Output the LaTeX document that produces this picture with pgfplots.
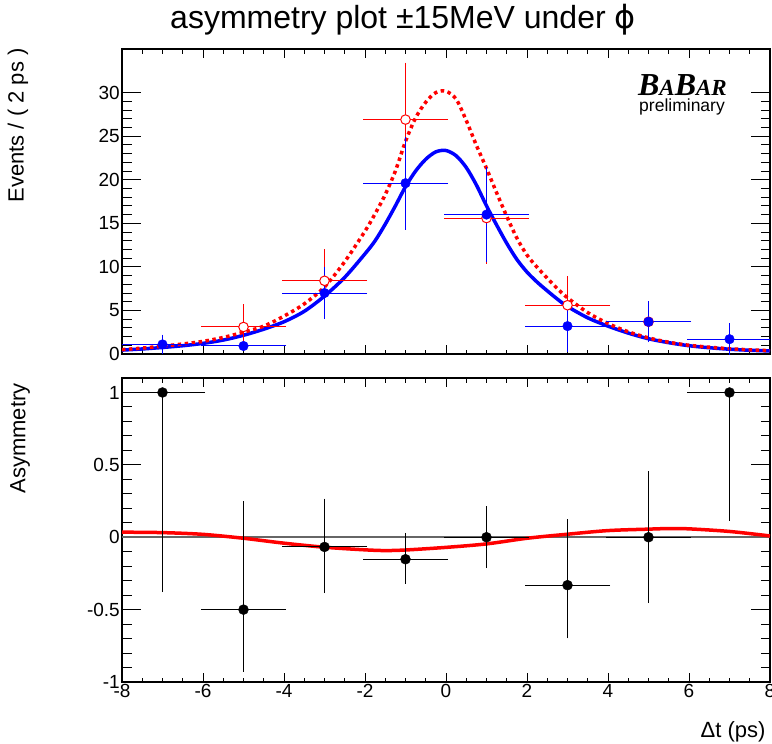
\documentclass[border=0pt]{standalone}
\usepackage{fontspec}
\setmainfont{Liberation Sans}
\newfontfamily\babarfont{Liberation Serif}
\newfontfamily\dejavu{DejaVu Sans}
\usepackage{pgfplots}
\pgfplotsset{compat=1.18}
\definecolor{rootblue}{RGB}{0,0,255}
\definecolor{rootred}{RGB}{255,0,0}
\pgfplotsset{
 rootaxis/.style={
  scale only axis, width=648bp, xmin=-8, xmax=8,
  axis line style={line width=1.2bp},
  tick style={line width=1bp, black},
  tick label style={font=\fontsize{19bp}{21bp}\selectfont},
  /pgf/number format/assume math mode=true,
  yticklabel style={inner sep=2bp},
  xticklabel style={inner sep=2bp},
 },
 yonly/.style={xtick=\empty, major tick length=19bp, minor tick length=9.5bp},
 xonly/.style={ytick=\empty, xtick={-8,-6,...,8}, minor x tick num=3,
  major tick length=9bp, minor tick length=4.5bp},
}
\begin{document}
\begin{tikzpicture}
\path[use as bounding box] (0bp,0bp) rectangle (772bp,-744bp);

% top panel: x ticks
\begin{axis}[rootaxis, xonly, at={(122bp,-354bp)}, anchor=south west, height=305bp,
  ymin=0, ymax=35, xticklabels={}]
\end{axis}
% top panel: data and y ticks
\begin{axis}[rootaxis, yonly, at={(122bp,-354bp)}, anchor=south west, height=305bp,
  ymin=0, ymax=35, ytick={0,5,...,30}, minor y tick num=4]
\addplot[rootblue, line width=3.5bp, smooth, no marks] coordinates {
(-8,0.45) (-7.5,0.58) (-7,0.75) (-6.5,0.95) (-6,1.22) (-5.5,1.6) (-5,2.15) (-4.5,2.85)
(-4,3.7) (-3.5,4.9) (-3,6.65) (-2.5,8.8) (-2,11.5) (-1.75,13.0) (-1.5,14.9) (-1.25,17.0)
(-1,19.2) (-0.75,21.0) (-0.5,22.35) (-0.25,23.2) (0,23.35) (0.25,22.75) (0.5,21.4)
(0.75,19.4) (1,17.0) (1.25,14.8) (1.5,12.7) (1.75,10.85) (2,9.4) (2.25,8.25) (2.5,7.25)
(2.75,6.3) (3,5.45) (3.5,4.15) (4,3.2) (4.5,2.4) (5,1.75) (5.5,1.3) (6,0.95) (6.5,0.72)
(7,0.55) (7.5,0.43) (8,0.35)};
\addplot[rootred, line width=3.5bp, dash pattern=on 3.5bp off 3.5bp, smooth, no marks] coordinates {
(-8,0.5) (-7.5,0.68) (-7,0.9) (-6.5,1.15) (-6,1.45) (-5.5,1.9) (-5,2.5) (-4.5,3.2)
(-4,4.35) (-3.5,5.75) (-3,7.7) (-2.5,10.6) (-2,14.1) (-1.75,16.1) (-1.5,18.3) (-1.25,21.0)
(-1,24.4) (-0.75,27.1) (-0.5,28.9) (-0.25,30.0) (0,30.15) (0.25,29.25) (0.5,26.8)
(0.75,23.95) (1,21.3) (1.25,18.5) (1.5,15.8) (1.75,13.3) (2,11.35) (2.25,9.95) (2.5,8.7)
(2.75,7.5) (3,6.45) (3.5,4.75) (4,3.5) (4.5,2.55) (5,1.85) (5.5,1.35) (6,1.0) (6.5,0.78)
(7,0.6) (7.5,0.48) (8,0.38)};
\addplot[rootred, only marks, mark=*, mark size=4.8bp,
  mark options={fill=white, draw=rootred, line width=1bp},
  error bars/.cd, x dir=both, x explicit, y dir=both, y explicit,
  error bar style={line width=1bp, rootred},
  error mark options={line width=1bp, mark size=2bp, rootred}] coordinates {
(-5,3.1) +- (1,2.4)
(-3,8.4) +- (1,3.4)
(-1,26.9) +- (1,6.3)
(1,15.6) +- (1,5.0)
(3,5.6) +- (1,3.1)
(5,3.7) +- (1,2.1)};
\addplot[rootblue, only marks, mark=*, mark size=4.8bp,
  mark options={fill=rootblue, draw=rootblue},
  error bars/.cd, x dir=both, x explicit, y dir=both, y explicit,
  error bar style={line width=1bp, rootblue},
  error mark options={line width=1bp, mark size=2bp, rootblue}] coordinates {
(-7,1.1) +- (1,0.9)
(-5,0.92) +- (1,0)
(-3,7.0) +- (1,2.75)
(-1,19.6) +- (1,5.1)
(1,16.0) +- (1,5.2)
(3,3.2) +- (1,2.75)
(5,3.7) +- (1,2.1)
(7,1.7) +- (1,1.6)};
\end{axis}

% bottom panel: x ticks
\begin{axis}[rootaxis, xonly, at={(122bp,-682bp)}, anchor=south west, height=304bp,
  ymin=-1, ymax=1.1]
\end{axis}
% bottom panel: data and y ticks
\begin{axis}[rootaxis, yonly, at={(122bp,-682bp)}, anchor=south west, height=304bp,
  ymin=-1, ymax=1.1, ytick={-1,-0.5,0,0.5,1}, minor y tick num=4]
\addplot[black!60, line width=1.8bp, no marks] coordinates {(-8,0) (8,0)};
\addplot[rootred, line width=3.5bp, smooth, no marks] coordinates {
(-8,0.035) (-7,0.032) (-6,0.02) (-5,-0.007) (-4,-0.041) (-3,-0.069) (-2,-0.087)
(-1.5,-0.092) (-1,-0.088) (0,-0.07) (1,-0.046) (2,-0.007) (3,0.021) (4,0.046)
(5,0.056) (5.5,0.06) (6,0.058) (7,0.04) (8,0.009)};
\addplot[black, only marks, mark=*, mark size=5bp,
  error bars/.cd, x dir=both, x explicit, y dir=both, y explicit,
  error bar style={line width=1bp, black},
  error mark options={line width=1bp, mark size=2bp, black}] coordinates {
(-7,1) += (1,0) -= (1,1.365)
(-5,-0.5) += (1,0.736) -= (1,0.414)
(-3,-0.067) += (1,0.32) -= (1,0.305)
(-1,-0.152) += (1,0.168) -= (1,0.156)
(1,0) +- (1,0.2)
(3,-0.331) += (1,0.44) -= (1,0.354)
(5,0) +- (1,0.442)
(7,1) += (1,0) -= (1,0.872)};
\end{axis}

\node[font=\fontsize{32bp}{36bp}\selectfont] at (403bp,-20bp) {asymmetry plot ±15MeV under {\dejavu ϕ}};
\node[rotate=90, anchor=east, font=\fontsize{22bp}{24bp}\selectfont] at (18bp,-45bp) {Events / ( 2 ps )};
\node[rotate=90, anchor=east, font=\fontsize{22bp}{24bp}\selectfont] at (20bp,-380bp) {Asymmetry};
\node[anchor=base east, font=\fontsize{22bp}{24bp}\selectfont] at (769bp,-737bp) {Δt (ps)};
\node[anchor=base east, inner sep=0pt] at (727bp,-95bp) {\babarfont\bfseries\itshape\fontsize{32bp}{32bp}\selectfont B\fontsize{23bp}{23bp}\selectfont A\fontsize{32bp}{32bp}\selectfont B\fontsize{23bp}{23bp}\selectfont AR};
\node[anchor=base east, inner sep=0pt, font=\fontsize{17.5bp}{18bp}\selectfont] at (725bp,-111bp) {preliminary};
\end{tikzpicture}
\end{document}
